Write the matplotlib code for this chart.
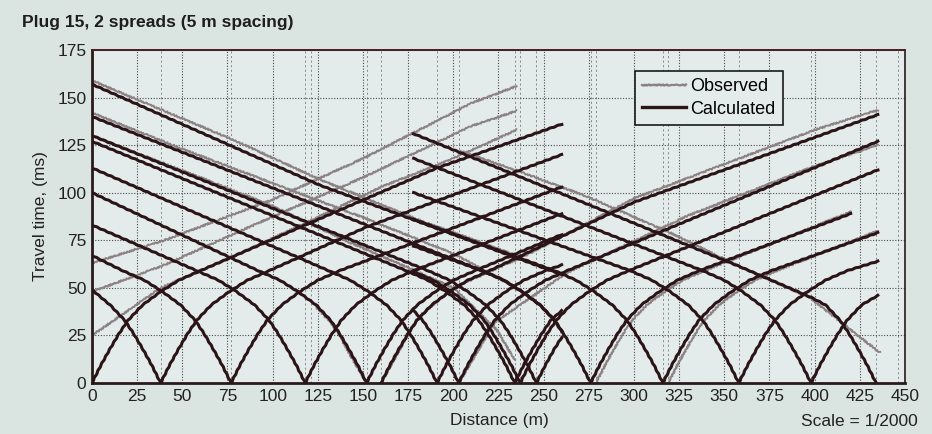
import matplotlib
matplotlib.use("Agg")
import matplotlib.pyplot as plt
from matplotlib.lines import Line2D

plt.rcParams['font.family'] = ['Liberation Sans', 'DejaVu Sans']

# shot point positions (dashed markers on the grid)
shot_marks = [38, 77, 118, 121, 152, 160, 191, 203, 234, 237, 246,
              276, 279, 316, 319, 358, 398, 434, 446]

# ---- calculated travel times, spread 1 (0 - 260 m) ----
s1_left_x = [[38, 33, 28, 23, 18, 10, 0],
             [77, 72, 67, 62, 57, 49, 39, 29, 17, 0],
             [118, 113, 108, 103, 98, 90, 80, 70, 58, 0],
             [152, 147, 142, 137, 132, 124, 114, 104, 92, 0],
             [191, 186, 181, 176, 171, 163, 153, 143, 131, 0],
             [234, 229, 224, 219, 214, 206, 196, 186, 174, 0],
             [246, 241, 236, 231, 226, 218, 208, 198, 186, 0],
             [260, 256, 248, 238, 228, 216, 0],
             [260, 126, 0]]
s1_left_t = [[0, 9.5, 18, 26, 33, 41, 49],
             [0, 9.5, 18, 26, 33, 41, 48, 54, 59, 67],
             [0, 9.5, 18, 26, 33, 41, 48, 54, 59, 83],
             [0, 9.5, 18, 26, 33, 41, 48, 54, 59, 100],
             [0, 9.5, 18, 26, 33, 41, 48, 54, 59, 113],
             [0, 9.5, 18, 26, 33, 41, 48, 54, 59, 127],
             [0, 9.5, 18, 26, 33, 41, 48, 54, 59, 130],
             [27, 33, 41, 48, 54, 59, 140],
             [57, 104, 157]]

s1_right_x = [[0, 5, 10, 15, 20, 28, 38, 48, 60, 118, 191, 260],
              [38, 43, 48, 53, 58, 66, 76, 86, 98, 152, 260],
              [77, 82, 87, 92, 97, 105, 115, 125, 137, 260],
              [118, 123, 128, 133, 138, 146, 156, 166, 178, 260],
              [152, 157, 162, 167, 172, 180, 190, 200, 212, 260],
              [191, 196, 201, 206, 211, 219, 229, 239, 251, 260],
              [234, 239, 244, 249, 254, 260],
              [246, 251, 256, 260]]
s1_right_t = [[0, 9.5, 18, 26, 33, 41, 48, 54, 59, 83, 113, 136],
              [0, 9.5, 18, 26, 33, 41, 48, 54, 59, 82, 120],
              [0, 9.5, 18, 26, 33, 41, 48, 54, 59, 103],
              [0, 9.5, 18, 26, 33, 41, 48, 54, 59, 89],
              [0, 9.5, 18, 26, 33, 41, 48, 54, 59, 78],
              [0, 9.5, 18, 26, 33, 41, 48, 54, 59, 62],
              [0, 9.5, 18, 26, 33, 38],
              [0, 9.5, 18, 24]]

# ---- calculated travel times, spread 2 (178 - 435 m) ----
s2_left_x = [[203, 198, 193, 188, 183, 178],
             [237, 232, 227, 222, 217, 209, 199, 189, 178],
             [276, 271, 266, 261, 256, 248, 238, 228, 216, 178],
             [316, 311, 306, 301, 296, 288, 278, 268, 256, 178],
             [358, 353, 348, 343, 338, 330, 320, 310, 298, 178],
             [398, 393, 388, 383, 378, 370, 360, 350, 338, 178],
             [434, 429, 424, 419, 414, 406, 398, 359, 282, 178]]
s2_left_t = [[0, 9.5, 18, 26, 33, 38],
             [0, 9.5, 18, 26, 33, 41, 48, 54, 58.5],
             [0, 9.5, 18, 26, 33, 41, 48, 54, 59, 72],
             [0, 9.5, 18, 26, 33, 41, 48, 54, 59, 86],
             [0, 9.5, 18, 26, 33, 41, 48, 54, 59, 100],
             [0, 9.5, 18, 26, 33, 41, 48, 54, 59, 118],
             [0, 9.5, 18, 26, 33, 41, 45, 61, 91, 131]]

s2_right_x = [[160, 165, 170, 175, 180, 188, 198, 208, 220, 300, 435],
              [203, 208, 213, 218, 223, 231, 241, 251, 263, 435],
              [237, 242, 247, 252, 257, 265, 275, 285, 297, 435],
              [276, 281, 286, 291, 296, 304, 314, 324, 336, 420],
              [316, 321, 326, 331, 336, 344, 354, 364, 376, 435],
              [358, 363, 368, 373, 378, 386, 396, 406, 418, 435],
              [398, 403, 408, 413, 418, 426, 435]]
s2_right_t = [[0, 9.5, 18, 26, 33, 41, 48, 54, 59, 95, 141],
              [0, 9.5, 18, 26, 33, 41, 48, 54, 59, 127],
              [0, 9.5, 18, 26, 33, 41, 48, 54, 59, 112],
              [0, 9.5, 18, 26, 33, 41, 48, 54, 59, 89],
              [0, 9.5, 18, 26, 33, 41, 48, 54, 59, 79],
              [0, 9.5, 18, 26, 33, 41, 48, 54, 59, 64],
              [0, 9.5, 18, 26, 33, 41, 46]]

# ---- observed travel times ----
obs_x = [[0, 40, 80, 126, 180, 235],
         [0, 50, 100, 150, 200, 235],
         [0, 30, 60, 100, 140, 174, 200, 224, 234],
         [0, 38, 77, 118, 160, 200, 235],
         [0, 40, 99, 150, 210, 235],
         [0, 40, 99, 150, 210, 235],
         [204, 240, 274, 320, 359, 397, 436],
         [160, 180, 200, 240, 300, 350, 400, 435],
         [203, 223, 263, 330, 400, 435],
         [319, 324, 329, 334, 339, 347, 357, 367, 379, 435],
         [279, 284, 289, 294, 299, 307, 317, 327, 339, 420],
         [152, 147, 142, 137, 132, 124]]
obs_t = [[159, 143, 127, 107, 86, 67],
         [142, 123, 105, 87, 68, 50],
         [130, 119, 108, 93, 75, 61, 50, 28, 12],
         [25, 50, 66, 84, 103, 118, 133],
         [48, 62, 87, 108, 135, 143],
         [63, 75, 96, 118, 147, 156],
         [122, 110, 98, 79, 61, 45, 16],
         [0, 34, 50, 67, 97, 115, 133, 143.5],
         [0, 32, 58, 88, 114, 125],
         [0, 9.5, 18, 26, 33, 41, 48, 54, 59, 80],
         [0, 9.5, 18, 26, 33, 41, 48, 54, 59, 90],
         [0, 8, 16, 25, 32, 40]]

calc_color = '#2b1418'
obs_color = '#8c8285'
bg = '#dae4e1'

fig = plt.figure(figsize=(9.32, 4.34), dpi=100, facecolor=bg)
ax = fig.add_axes([0.0987, 0.1175, 0.8723, 0.7673], facecolor='#e3ecea')

ax.set_xlim(0, 450)
ax.set_ylim(0, 175)
ax.set_xticks(range(0, 451, 25))
ax.set_yticks(range(0, 176, 25))
ax.grid(True, linestyle=(0, (1, 1.5)), color='#4a4a4a', linewidth=0.8, zorder=0)
ax.set_axisbelow(True)

for s in shot_marks:
    ax.axvline(s, linestyle=(0, (2.5, 3)), color='#7a7a7a', linewidth=0.6, zorder=0.5)

# observed first (underneath)
for xs, ts in zip(obs_x, obs_t):
    ln, = ax.plot(xs, ts, color=obs_color, linewidth=1.4, zorder=2)
    ln.set_sketch_params(0.8, 3, 2)

for xl, tl in [(s1_left_x, s1_left_t), (s1_right_x, s1_right_t),
               (s2_left_x, s2_left_t), (s2_right_x, s2_right_t)]:
    for xs, ts in zip(xl, tl):
        ln, = ax.plot(xs, ts, color=calc_color, linewidth=2.2, zorder=3,
                      solid_joinstyle='round')
        ln.set_sketch_params(0.3, 8, 1)

ax.tick_params(length=0, pad=4, labelsize=12.5, labelcolor='#222222')
for side in ['left', 'bottom']:
    ax.spines[side].set_linewidth(2.0)
    ax.spines[side].set_color('#2a1a1c')
ax.spines['top'].set_linewidth(1.4)
ax.spines['top'].set_color('#4a1c22')
ax.spines['right'].set_linewidth(1.2)
ax.spines['right'].set_color('#2a1a1c')

handles = [Line2D([], [], color=obs_color, linewidth=1.6),
           Line2D([], [], color=calc_color, linewidth=2.4)]
handles[0].set_sketch_params(0.6, 2, 2)
leg = ax.legend(handles, ['Observed', 'Calculated'], loc='upper left',
                bbox_to_anchor=(0.668, 0.937), fontsize=13, frameon=True,
                fancybox=False, edgecolor='#1a1a1a', facecolor='#e3ecea',
                framealpha=1, handlelength=2.4, handletextpad=0.25,
                borderpad=0.4, labelspacing=0.3, borderaxespad=0)
leg.get_frame().set_linewidth(1.2)
leg.set_zorder(5)

fig.text(22 / 932, 1 - 23 / 434, 'Plug 15, 2 spreads (5 m spacing)',
         fontsize=12.6, fontweight='bold', ha='left', va='center', color='#1e1e1e')
fig.text(499 / 932, 1 - 421 / 434, 'Distance (m)', fontsize=12.5,
         ha='center', va='center', color='#222222')
fig.text(40 / 932, 1 - 216 / 434, 'Travel time, (ms)', fontsize=12.5,
         rotation=90, ha='center', va='center', color='#222222')
fig.text(918 / 932, 1 - 421 / 434, 'Scale = 1/2000', fontsize=12.5,
         ha='right', va='center', color='#222222')

fig.savefig('out.png', dpi=100, facecolor=bg)
